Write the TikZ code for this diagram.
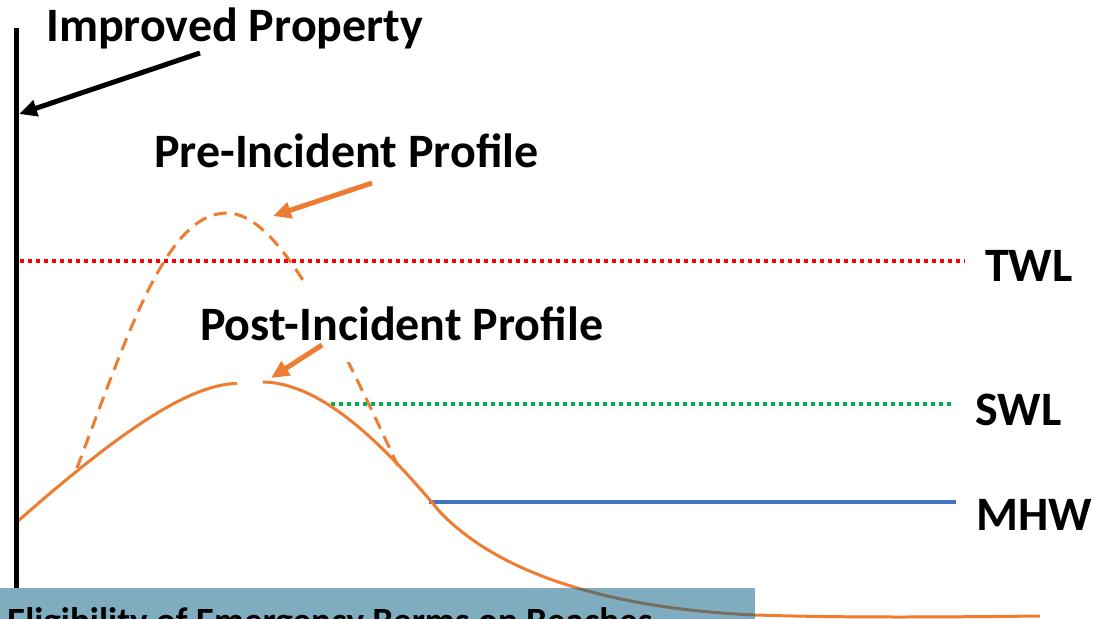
\documentclass[tikz,border=0pt]{standalone}
\usepackage{fontspec}
\setmainfont{Carlito}
\usetikzlibrary{arrows.meta}
\definecolor{orng}{HTML}{ED7D31}
\definecolor{twlred}{HTML}{FF0000}
\definecolor{swlgreen}{HTML}{00B050}
\definecolor{mhwblue}{HTML}{4472C4}
\definecolor{banner}{HTML}{7FADBF}
\definecolor{mixcurve}{RGB}{118,110,96}
\tikzset{
  lbl/.style={anchor=base west, inner sep=0pt, font=\fontsize{48bp}{56bp}\selectfont\bfseries},
  bigarrow/.style={line width=5bp, -{Triangle[length=18bp,width=16bp]}},
  levelline/.style={line width=3.5bp},
  profile/.style={line width=3bp, orng},
}
\begin{document}
\begin{tikzpicture}[x=1bp,y=-1bp]
\useasboundingbox (0,0) rectangle (1094,619);
\fill[white] (0,0) rectangle (1094,619);
% pre-incident (dashed) profile
\coordinate (preA) at (77,468); \coordinate (preTop) at (227,213); \coordinate (preB) at (398,466);
\draw[profile, dash pattern=on 13bp off 8bp] (preA) .. controls (130,328) and (167,213) .. (preTop)
  .. controls (280,213) and (337,336) .. (preB);
% water levels
\coordinate (twlS) at (20,261); \coordinate (twlE) at (965,261);
\coordinate (swlS) at (331,404); \coordinate (swlE) at (953,404);
\coordinate (mhwS) at (429,502); \coordinate (mhwE) at (956,502);
\draw[levelline, twlred, dash pattern=on 4bp off 4bp] (twlS) -- (twlE);
\draw[levelline, swlgreen, dash pattern=on 4bp off 4bp] (swlS) -- (swlE);
\draw[levelline, mhwblue] (mhwS) -- (mhwE);
% post-incident profile
\coordinate (postA) at (18,521); \coordinate (postL) at (237,383.5);
\coordinate (postR) at (263,382); \coordinate (postI) at (440,512);
\coordinate (postF) at (755,615); \coordinate (postZ) at (1040,616);
\draw[profile] (postA) .. controls (108,442) and (185,384) .. (postL);
\def\postcurve{(postR) .. controls (320,383) and (380,440) .. (postI)
  .. controls (510,585) and (640,610) .. (postF)
  .. controls (850,618) and (950,617) .. (postZ)}
\draw[profile] \postcurve;
% labels
\node[lbl] (ip) at (46,42) {Improved Property};
\node[lbl] (pre) at (154,168) {Pre-Incident Profile};
\node[lbl, fill=white, inner xsep=2bp, inner ysep=22bp, text height=34bp, text depth=0bp] (post) at (198,340) {Post-Incident Profile};
\node[lbl] (twl) at (985,282) {TWL};
\node[lbl] (swl) at (975,425) {SWL};
\node[lbl] (mhw) at (976,530) {MHW};
% property wall
\coordinate (wallT) at (16,28); \coordinate (wallB) at (16,588);
\draw[line width=5bp] (wallT) -- (wallB);
% arrows
\coordinate (ipS) at (200,53); \coordinate (ipE) at (19,114);
\draw[bigarrow, black] (ipS) -- (ipE);
\coordinate (preS) at (372,183); \coordinate (preE) at (273,216);
\draw[bigarrow, orng] (preS) -- (preE);
\coordinate (postS) at (322,345); \coordinate (postE) at (271,378);
\draw[bigarrow, orng] (postS) -- (postE);
% banner
\fill[banner] (0,588) rectangle (755,619);
\begin{scope}
\clip (0,588) rectangle (755,619);
\draw[line width=3bp, mixcurve] \postcurve;
\end{scope}
\node[anchor=base west, inner sep=0pt, font=\fontsize{37bp}{44bp}\selectfont\bfseries] (title) at (7,633) {Eligibility of Emergency Berms on Beaches};
\end{tikzpicture}
\end{document}
